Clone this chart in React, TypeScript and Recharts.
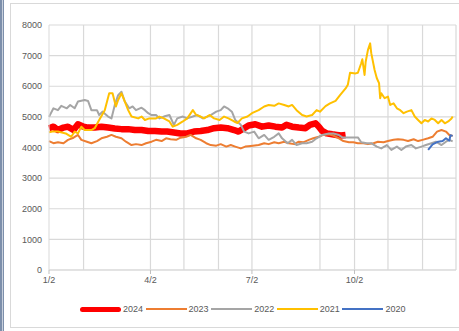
import React from 'react';
import { LineChart, Line, XAxis, YAxis, CartesianGrid, ReferenceLine } from 'recharts';

// day = days after 1/2
const s2024: [number, number][] = [
  [0, 4630], [4, 4680], [8, 4570], [13, 4650], [17, 4680], [22, 4570], [26, 4760], [31, 4680],
  [35, 4650], [41, 4650], [47, 4680], [53, 4650], [59, 4620], [65, 4600], [71, 4600], [77, 4570],
  [83, 4570], [89, 4540], [95, 4540], [101, 4520], [106, 4520], [112, 4490], [118, 4460], [124, 4460],
  [130, 4520], [136, 4540], [142, 4570], [148, 4630], [154, 4650], [160, 4630], [166, 4570], [170, 4520],
  [175, 4630], [179, 4720], [185, 4760], [191, 4680], [197, 4720], [203, 4680], [209, 4650], [213, 4740],
  [218, 4680], [224, 4650], [230, 4630], [234, 4740], [239, 4790], [242, 4680], [245, 4540], [249, 4460],
  [254, 4430], [258, 4410], [262, 4390], [266, 4410],
];

const s2023: [number, number][] = [
  [0, 4210], [4, 4140], [8, 4170], [13, 4140], [17, 4250], [22, 4320], [26, 4410], [29, 4250],
  [34, 4190], [38, 4140], [43, 4210], [47, 4300], [52, 4350], [56, 4410], [60, 4350], [65, 4300],
  [69, 4190], [74, 4080], [78, 4110], [83, 4080], [87, 4140], [92, 4190], [96, 4250], [101, 4210],
  [105, 4300], [109, 4270], [114, 4250], [118, 4320], [123, 4350], [127, 4410], [132, 4300], [136, 4250],
  [141, 4140], [145, 4080], [150, 4060], [154, 4110], [159, 4030], [163, 4080], [167, 4030], [172, 3970],
  [176, 4030], [181, 4050], [188, 4080], [193, 4140], [197, 4110], [202, 4170], [206, 4140], [211, 4190],
  [215, 4140], [220, 4110], [224, 4190], [228, 4170], [233, 4250], [237, 4300], [242, 4350], [246, 4410],
  [251, 4430], [255, 4390], [260, 4300], [264, 4210], [269, 4170], [273, 4170], [277, 4140], [282, 4140],
  [286, 4110], [291, 4140], [295, 4190], [300, 4170], [304, 4210], [309, 4250], [313, 4270], [318, 4250],
  [322, 4210], [327, 4270], [331, 4210], [335, 4250], [340, 4300], [344, 4350], [348, 4520], [352, 4570],
  [356, 4520], [359, 4410], [362, 4380],
];

const s2022: [number, number][] = [
  [0, 5000], [4, 5280], [8, 5220], [11, 5360], [16, 5280], [19, 5390], [23, 5280], [26, 5500],
  [32, 5550], [35, 5520], [38, 5220], [43, 5220], [45, 5060], [48, 5170], [53, 5010], [56, 4950],
  [59, 5390], [62, 5710], [65, 5820], [68, 5500], [72, 5280], [75, 5340], [78, 5220], [83, 5300],
  [86, 5220], [89, 5120], [92, 5060], [96, 5060], [99, 4950], [103, 5010], [108, 5060], [112, 4740],
  [115, 4950], [120, 5010], [124, 4950], [129, 5010], [133, 5060], [138, 4950], [142, 5010], [145, 5060],
  [150, 5170], [154, 5220], [157, 5340], [161, 5260], [164, 5170], [167, 4900], [172, 4740], [175, 4520],
  [179, 4460], [184, 4520], [188, 4300], [193, 4410], [197, 4250], [202, 4350], [206, 4460], [209, 4300],
  [214, 4140], [218, 4250], [222, 4080], [227, 4140], [231, 4140], [236, 4190], [240, 4300], [245, 4410],
  [251, 4460], [255, 4460], [260, 4410], [263, 4330], [269, 4330], [275, 4330], [277, 4330], [280, 4170],
  [285, 4140], [289, 4140], [294, 4030], [298, 3970], [303, 4080], [307, 3920], [312, 4030], [316, 3920],
  [320, 4030], [325, 4080], [329, 3970], [334, 4030], [338, 4080], [343, 4140], [347, 4190], [352, 4080],
  [356, 4190], [359, 4250], [362, 4200],
];

const s2021: [number, number][] = [
  [0, 4500], [3, 4520], [8, 4520], [15, 4460], [20, 4350], [23, 4520], [26, 4460], [29, 4680],
  [32, 4570], [38, 4570], [41, 4630], [45, 4900], [50, 5220], [54, 5770], [57, 5770], [60, 5340],
  [62, 5550], [65, 5770], [68, 5500], [71, 5220], [74, 5010], [80, 4950], [83, 5010], [86, 4900],
  [90, 4950], [96, 4950], [99, 5010], [103, 4950], [108, 4850], [111, 4680], [115, 4740], [120, 4850],
  [124, 4950], [129, 5220], [132, 5060], [136, 5010], [139, 4950], [144, 5060], [148, 4950], [153, 4900],
  [157, 5010], [161, 4950], [166, 4850], [169, 4800], [173, 4950], [178, 5010], [182, 5120], [188, 5220],
  [193, 5340], [197, 5390], [202, 5360], [206, 5440], [211, 5390], [215, 5340], [218, 5390], [222, 5220],
  [227, 5060], [231, 5010], [236, 5060], [240, 5220], [243, 5170], [248, 5350], [252, 5440], [257, 5520],
  [261, 5710], [266, 5930], [268, 6050], [270, 6440], [275, 6420], [277, 6440], [280, 6750], [281, 6880],
  [283, 6370], [284, 6800], [286, 7180], [288, 7400], [289, 7080], [292, 6530], [294, 6260], [296, 6100],
  [297, 5610], [298, 5770], [301, 5610], [304, 5660], [306, 5390], [309, 5440], [312, 5280], [315, 5220],
  [318, 5120], [321, 5170], [325, 5220], [328, 5010], [331, 4900], [334, 4790], [337, 4900], [340, 4850],
  [343, 4950], [346, 4900], [349, 4790], [352, 4900], [355, 4790], [358, 4850], [361, 4950], [362, 5010],
];

const s2020: [number, number][] = [
  [340, 3920], [344, 4100], [349, 4190], [353, 4210], [356, 4300], [359, 4220], [360, 4400], [362, 4380],
];

const yTicks = [0, 1000, 2000, 3000, 4000, 5000, 6000, 7000, 8000];
const xTicks = [0, 91, 182, 274];
const xTickLabels = ['1/2', '4/2', '7/2', '10/2'];
const gridDays = [31, 91, 121, 152, 182, 243, 274, 304, 335, 365];

const series = [
  { name: '2024', points: s2024, color: '#ff0000', width: 6.5 },
  { name: '2023', points: s2023, color: '#ed7d31', width: 2 },
  { name: '2022', points: s2022, color: '#a5a5a5', width: 2 },
  { name: '2021', points: s2021, color: '#ffc000', width: 2 },
  { name: '2020', points: s2020, color: '#4472c4', width: 2 },
];

const FONT = '"Liberation Sans", Arial, sans-serif';
const TEXT = '#595959';
const GRID = '#d9d9d9';

const App: React.FC = () => {
  return (
    <div
      style={{
        position: 'absolute',
        left: 0,
        top: 0,
        width: 459,
        height: 331,
        background: '#fff',
        overflow: 'hidden',
        fontFamily: FONT,
      }}
    >
      {/* window edge on the left */}
      <div style={{ position: 'absolute', left: 0, top: 0, width: 4, height: 331, background: '#7d8fab' }} />
      <div style={{ position: 'absolute', left: 2, top: 0, width: 1, height: 331, background: '#c8d0dc' }} />
      {/* chart frame */}
      <div
        style={{
          position: 'absolute',
          left: 10,
          top: 3,
          width: 460,
          height: 325,
          border: '1px solid #d9d9d9',
          boxSizing: 'border-box',
        }}
      />

      <div style={{ position: 'absolute', left: 0, top: 0 }}>
        <LineChart width={459} height={331} margin={{ top: 25, right: 3, bottom: 31, left: 0 }}>
          <CartesianGrid horizontal vertical={false} stroke={GRID} strokeWidth={1.2} />
          <XAxis
            type="number"
            dataKey="day"
            domain={[0, 365]}
            ticks={xTicks}
            tickFormatter={(v: number) => xTickLabels[xTicks.indexOf(v)] ?? ''}
            height={30}
            tickSize={4}
            tickMargin={3}
            stroke={GRID}
            tickLine={{ stroke: '#bfbfbf' }}
            tick={{ fontSize: 9, fill: TEXT, fontFamily: FONT }}
            allowDuplicatedCategory={false}
          />
          <YAxis
            type="number"
            domain={[0, 8000]}
            ticks={yTicks}
            width={49}
            tickSize={5}
            tickMargin={2}
            tickLine={false}
            axisLine={{ stroke: GRID }}
            tick={{ fontSize: 9, fill: TEXT, fontFamily: FONT }}
          />
          {gridDays.map((d) => (
            <ReferenceLine key={d} x={d} stroke={GRID} strokeWidth={1.2} />
          ))}
          {series.map((s) => (
            <Line
              key={s.name}
              data={s.points.map(([day, v]) => ({ day, v }))}
              dataKey="v"
              name={s.name}
              type="linear"
              stroke={s.color}
              strokeWidth={s.width}
              strokeLinejoin="round"
              dot={false}
              activeDot={false}
              isAnimationActive={false}
            />
          ))}
        </LineChart>
      </div>

      {/* legend: one 66px slot per series */}
      {series.map((s, i) => (
        <div
          key={s.name}
          style={{
            position: 'absolute',
            left: 80 + i * 65.6,
            top: 303,
            height: 12,
            display: 'flex',
            alignItems: 'center',
            fontSize: 9,
            fontFamily: FONT,
            color: TEXT,
            whiteSpace: 'nowrap',
          }}
        >
          <span
            style={{
              display: 'inline-block',
              width: 41,
              height: s.width > 3 ? 5 : 2,
              borderRadius: s.width > 3 ? 3 : 0,
              background: s.color,
              marginRight: 2,
            }}
          />
          <span>{s.name}</span>
        </div>
      ))}
    </div>
  );
};

export default App;
